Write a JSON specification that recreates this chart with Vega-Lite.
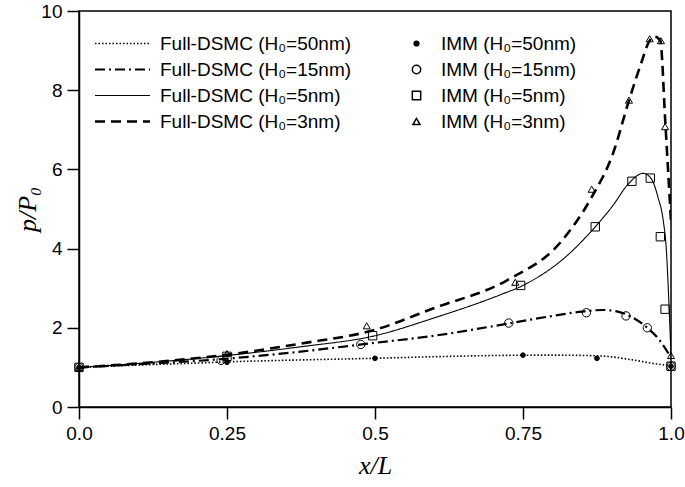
{
  "$schema": "https://vega.github.io/schema/vega-lite/v6.json",
  "autosize": "none",
  "width": 592,
  "height": 396,
  "padding": {"left": 79, "top": 11, "right": 14, "bottom": 80},
  "background": "white",
  "config": {
    "view": {"stroke": "black", "strokeWidth": 1.5},
    "axis": {
      "grid": false,
      "domainColor": "black",
      "domainWidth": 1.5,
      "tickColor": "black",
      "tickWidth": 1.5,
      "tickSize": 12,
      "labelFont": "Liberation Sans",
      "labelFontSize": 19,
      "labelColor": "black",
      "labelPadding": 5,
      "titleFont": "Liberation Serif",
      "titleFontStyle": "italic",
      "titleFontWeight": "normal",
      "titleFontSize": 26,
      "titleColor": "black"
    },
    "legend": {
      "labelFont": "Liberation Sans",
      "labelFontSize": 19,
      "labelColor": "black",
      "labelLimit": 400
    }
  },
  "datasets": {
    "curves": [
      {"curve": "Full-DSMC (H₀=50nm)", "x": 0, "y": 1.0},
      {"curve": "Full-DSMC (H₀=50nm)", "x": 0.05, "y": 1.03},
      {"curve": "Full-DSMC (H₀=50nm)", "x": 0.1, "y": 1.06},
      {"curve": "Full-DSMC (H₀=50nm)", "x": 0.2, "y": 1.11},
      {"curve": "Full-DSMC (H₀=50nm)", "x": 0.25, "y": 1.14},
      {"curve": "Full-DSMC (H₀=50nm)", "x": 0.35, "y": 1.18},
      {"curve": "Full-DSMC (H₀=50nm)", "x": 0.5, "y": 1.23},
      {"curve": "Full-DSMC (H₀=50nm)", "x": 0.6, "y": 1.27},
      {"curve": "Full-DSMC (H₀=50nm)", "x": 0.7, "y": 1.3},
      {"curve": "Full-DSMC (H₀=50nm)", "x": 0.8, "y": 1.31},
      {"curve": "Full-DSMC (H₀=50nm)", "x": 0.88, "y": 1.29},
      {"curve": "Full-DSMC (H₀=50nm)", "x": 0.935, "y": 1.19},
      {"curve": "Full-DSMC (H₀=50nm)", "x": 0.97, "y": 1.1},
      {"curve": "Full-DSMC (H₀=50nm)", "x": 1.0, "y": 1.04},
      {"curve": "Full-DSMC (H₀=15nm)", "x": 0, "y": 1.0},
      {"curve": "Full-DSMC (H₀=15nm)", "x": 0.1, "y": 1.08},
      {"curve": "Full-DSMC (H₀=15nm)", "x": 0.25, "y": 1.22},
      {"curve": "Full-DSMC (H₀=15nm)", "x": 0.35, "y": 1.36},
      {"curve": "Full-DSMC (H₀=15nm)", "x": 0.5, "y": 1.62},
      {"curve": "Full-DSMC (H₀=15nm)", "x": 0.6, "y": 1.8},
      {"curve": "Full-DSMC (H₀=15nm)", "x": 0.73, "y": 2.12},
      {"curve": "Full-DSMC (H₀=15nm)", "x": 0.8, "y": 2.3},
      {"curve": "Full-DSMC (H₀=15nm)", "x": 0.85, "y": 2.41},
      {"curve": "Full-DSMC (H₀=15nm)", "x": 0.885, "y": 2.45},
      {"curve": "Full-DSMC (H₀=15nm)", "x": 0.91, "y": 2.41},
      {"curve": "Full-DSMC (H₀=15nm)", "x": 0.935, "y": 2.26},
      {"curve": "Full-DSMC (H₀=15nm)", "x": 0.96, "y": 2.0},
      {"curve": "Full-DSMC (H₀=15nm)", "x": 0.98, "y": 1.7},
      {"curve": "Full-DSMC (H₀=15nm)", "x": 1.0, "y": 1.25},
      {"curve": "Full-DSMC (H₀=5nm)", "x": 0, "y": 1.0},
      {"curve": "Full-DSMC (H₀=5nm)", "x": 0.1, "y": 1.1},
      {"curve": "Full-DSMC (H₀=5nm)", "x": 0.25, "y": 1.3},
      {"curve": "Full-DSMC (H₀=5nm)", "x": 0.374, "y": 1.52},
      {"curve": "Full-DSMC (H₀=5nm)", "x": 0.5, "y": 1.8},
      {"curve": "Full-DSMC (H₀=5nm)", "x": 0.6, "y": 2.25},
      {"curve": "Full-DSMC (H₀=5nm)", "x": 0.711, "y": 2.83},
      {"curve": "Full-DSMC (H₀=5nm)", "x": 0.75, "y": 3.07},
      {"curve": "Full-DSMC (H₀=5nm)", "x": 0.825, "y": 3.83},
      {"curve": "Full-DSMC (H₀=5nm)", "x": 0.872, "y": 4.55},
      {"curve": "Full-DSMC (H₀=5nm)", "x": 0.902, "y": 5.09},
      {"curve": "Full-DSMC (H₀=5nm)", "x": 0.926, "y": 5.6},
      {"curve": "Full-DSMC (H₀=5nm)", "x": 0.953, "y": 5.9},
      {"curve": "Full-DSMC (H₀=5nm)", "x": 0.966, "y": 5.78},
      {"curve": "Full-DSMC (H₀=5nm)", "x": 0.978, "y": 5.3},
      {"curve": "Full-DSMC (H₀=5nm)", "x": 0.987, "y": 4.7},
      {"curve": "Full-DSMC (H₀=5nm)", "x": 0.992, "y": 4.0},
      {"curve": "Full-DSMC (H₀=5nm)", "x": 0.996, "y": 2.8},
      {"curve": "Full-DSMC (H₀=5nm)", "x": 1.0, "y": 1.3},
      {"curve": "Full-DSMC (H₀=3nm)", "x": 0, "y": 1.0},
      {"curve": "Full-DSMC (H₀=3nm)", "x": 0.1, "y": 1.1},
      {"curve": "Full-DSMC (H₀=3nm)", "x": 0.25, "y": 1.32},
      {"curve": "Full-DSMC (H₀=3nm)", "x": 0.374, "y": 1.6},
      {"curve": "Full-DSMC (H₀=3nm)", "x": 0.5, "y": 1.95},
      {"curve": "Full-DSMC (H₀=3nm)", "x": 0.6, "y": 2.5},
      {"curve": "Full-DSMC (H₀=3nm)", "x": 0.723, "y": 3.2},
      {"curve": "Full-DSMC (H₀=3nm)", "x": 0.814, "y": 4.17},
      {"curve": "Full-DSMC (H₀=3nm)", "x": 0.866, "y": 5.3},
      {"curve": "Full-DSMC (H₀=3nm)", "x": 0.902, "y": 6.4},
      {"curve": "Full-DSMC (H₀=3nm)", "x": 0.929, "y": 7.74},
      {"curve": "Full-DSMC (H₀=3nm)", "x": 0.95, "y": 8.7},
      {"curve": "Full-DSMC (H₀=3nm)", "x": 0.962, "y": 9.2},
      {"curve": "Full-DSMC (H₀=3nm)", "x": 0.972, "y": 9.36},
      {"curve": "Full-DSMC (H₀=3nm)", "x": 0.982, "y": 9.25},
      {"curve": "Full-DSMC (H₀=3nm)", "x": 0.99, "y": 7.3},
      {"curve": "Full-DSMC (H₀=3nm)", "x": 0.995, "y": 6.0},
      {"curve": "Full-DSMC (H₀=3nm)", "x": 1.0, "y": 4.7}
    ],
    "imm": [
      {"imm": "IMM (H₀=50nm)", "x": 0, "y": 1.0},
      {"imm": "IMM (H₀=50nm)", "x": 0.25, "y": 1.13},
      {"imm": "IMM (H₀=50nm)", "x": 0.5, "y": 1.23},
      {"imm": "IMM (H₀=50nm)", "x": 0.75, "y": 1.31},
      {"imm": "IMM (H₀=50nm)", "x": 0.875, "y": 1.23},
      {"imm": "IMM (H₀=50nm)", "x": 1.0, "y": 1.03},
      {"imm": "IMM (H₀=15nm)", "x": 0, "y": 1.0},
      {"imm": "IMM (H₀=15nm)", "x": 0.24, "y": 1.18},
      {"imm": "IMM (H₀=15nm)", "x": 0.476, "y": 1.58},
      {"imm": "IMM (H₀=15nm)", "x": 0.726, "y": 2.12},
      {"imm": "IMM (H₀=15nm)", "x": 0.857, "y": 2.38},
      {"imm": "IMM (H₀=15nm)", "x": 0.924, "y": 2.3},
      {"imm": "IMM (H₀=15nm)", "x": 0.96, "y": 2.0},
      {"imm": "IMM (H₀=15nm)", "x": 1.0, "y": 1.03},
      {"imm": "IMM (H₀=5nm)", "x": 0, "y": 1.0},
      {"imm": "IMM (H₀=5nm)", "x": 0.25, "y": 1.28},
      {"imm": "IMM (H₀=5nm)", "x": 0.496, "y": 1.8},
      {"imm": "IMM (H₀=5nm)", "x": 0.746, "y": 3.07},
      {"imm": "IMM (H₀=5nm)", "x": 0.872, "y": 4.55},
      {"imm": "IMM (H₀=5nm)", "x": 0.934, "y": 5.7},
      {"imm": "IMM (H₀=5nm)", "x": 0.965, "y": 5.78},
      {"imm": "IMM (H₀=5nm)", "x": 0.982, "y": 4.3},
      {"imm": "IMM (H₀=5nm)", "x": 0.99, "y": 2.47},
      {"imm": "IMM (H₀=5nm)", "x": 1.0, "y": 1.03},
      {"imm": "IMM (H₀=3nm)", "x": 0, "y": 1.0},
      {"imm": "IMM (H₀=3nm)", "x": 0.25, "y": 1.35},
      {"imm": "IMM (H₀=3nm)", "x": 0.486, "y": 2.05},
      {"imm": "IMM (H₀=3nm)", "x": 0.737, "y": 3.15},
      {"imm": "IMM (H₀=3nm)", "x": 0.866, "y": 5.5},
      {"imm": "IMM (H₀=3nm)", "x": 0.929, "y": 7.75},
      {"imm": "IMM (H₀=3nm)", "x": 0.964, "y": 9.3},
      {"imm": "IMM (H₀=3nm)", "x": 0.983, "y": 9.25},
      {"imm": "IMM (H₀=3nm)", "x": 0.99, "y": 7.08},
      {"imm": "IMM (H₀=3nm)", "x": 1.0, "y": 1.3}
    ]
  },
  "encoding": {
    "x": {
      "field": "x", "type": "quantitative",
      "scale": {"domain": [0, 1], "nice": false, "zero": false},
      "axis": {
        "title": "x/L",
        "values": [0, 0.25, 0.5, 0.75, 1],
        "labelExpr": "datum.value == 0 ? '0.0' : datum.value == 1 ? '1.0' : toString(datum.value)",
        "titlePadding": 9,
        "labelFlush": false
      }
    },
    "y": {
      "field": "y", "type": "quantitative",
      "scale": {"domain": [0, 10], "nice": false},
      "axis": {
        "title": "p/P₀",
        "values": [0, 2, 4, 6, 8, 10],
        "titlePadding": 0,
        "labelFlush": false
      }
    }
  },
  "layer": [
    {
      "data": {"name": "curves"},
      "mark": {"type": "line", "interpolate": "monotone", "color": "black", "clip": true},
      "encoding": {
        "detail": {"field": "curve"},
        "strokeDash": {
          "field": "curve", "type": "nominal",
          "scale": {
            "domain": ["Full-DSMC (H₀=50nm)", "Full-DSMC (H₀=15nm)", "Full-DSMC (H₀=5nm)", "Full-DSMC (H₀=3nm)"],
            "range": [[1.5, 2], [10, 4, 2, 4], [1, 0], [10, 6]]
          },
          "legend": {
            "title": null,
            "orient": "none",
            "legendX": 34,
            "legendY": 23,
            "symbolType": "M-5,0H5",
            "symbolSize": 121,
            "symbolStrokeColor": "black",
            "symbolStrokeWidth": 2,
            "labelOffset": 28,
            "rowPadding": 6
          }
        },
        "strokeWidth": {
          "field": "curve", "type": "nominal",
          "scale": {
            "type": "ordinal",
            "domain": ["Full-DSMC (H₀=50nm)", "Full-DSMC (H₀=15nm)", "Full-DSMC (H₀=5nm)", "Full-DSMC (H₀=3nm)"],
            "range": [1.6, 2.2, 1.1, 2.6]
          },
          "legend": null
        }
      }
    },
    {
      "data": {"name": "imm"},
      "mark": {"type": "point", "stroke": "black", "strokeWidth": 1, "opacity": 1, "clip": false},
      "encoding": {
        "shape": {
          "field": "imm", "type": "nominal",
          "scale": {
            "domain": ["IMM (H₀=50nm)", "IMM (H₀=15nm)", "IMM (H₀=5nm)", "IMM (H₀=3nm)"],
            "range": ["circle", "circle", "square", "triangle-up"]
          },
          "legend": {
            "title": null,
            "orient": "none",
            "legendX": 328,
            "legendY": 23,
            "labelOffset": 15,
            "rowPadding": 6
          }
        },
        "fill": {
          "field": "imm", "type": "nominal",
          "scale": {
            "domain": ["IMM (H₀=50nm)", "IMM (H₀=15nm)", "IMM (H₀=5nm)", "IMM (H₀=3nm)"],
            "range": ["black", "transparent", "transparent", "transparent"]
          }
        },
        "size": {
          "field": "imm", "type": "nominal",
          "scale": {
            "type": "ordinal",
            "domain": ["IMM (H₀=50nm)", "IMM (H₀=15nm)", "IMM (H₀=5nm)", "IMM (H₀=3nm)"],
            "range": [22, 70, 70, 50]
          }
        }
      }
    }
  ]
}
